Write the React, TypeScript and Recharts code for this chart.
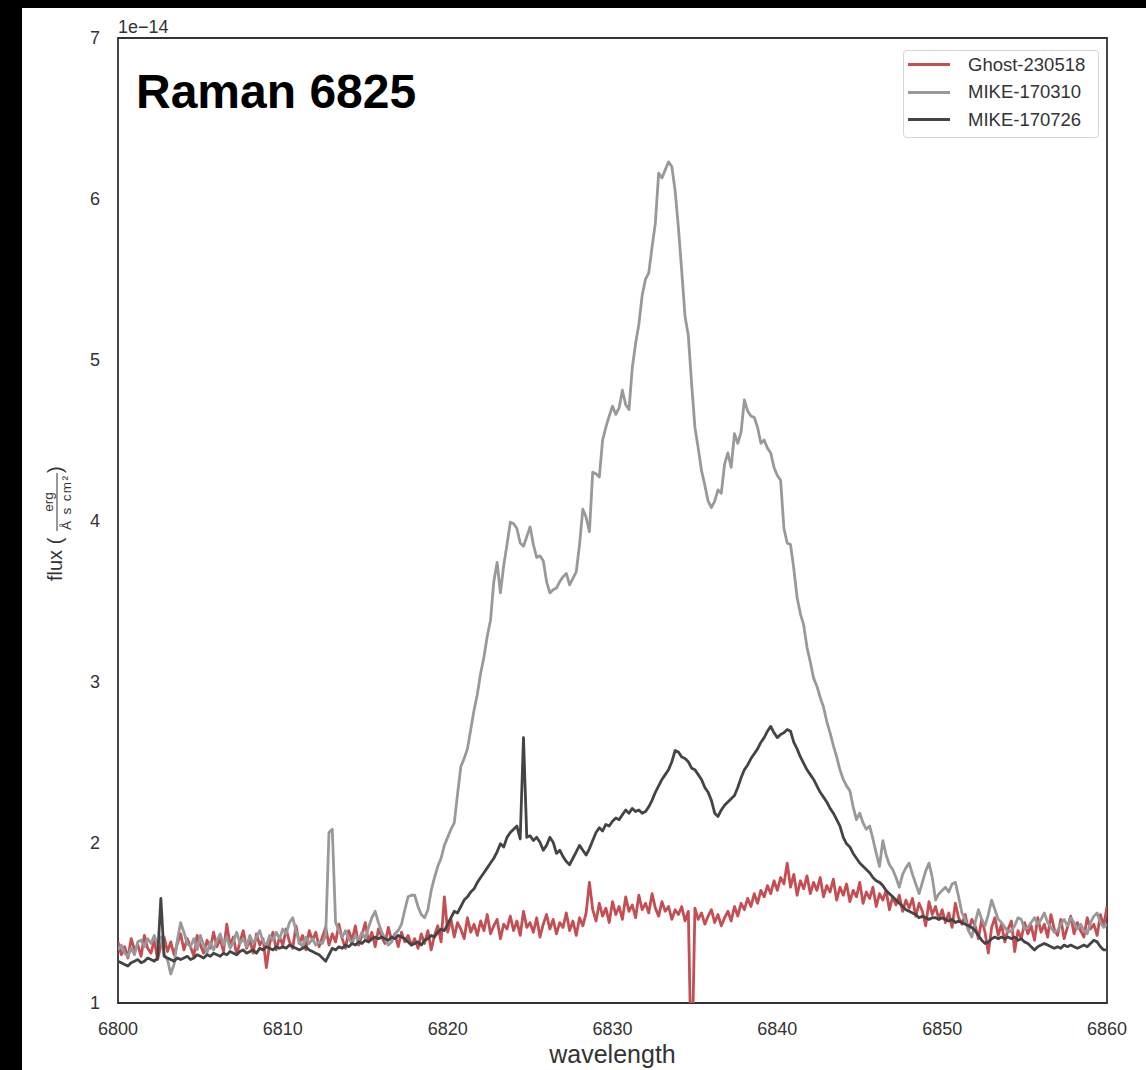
import React from "react";
import { LineChart, Line, XAxis, YAxis, Legend, ReferenceArea, Label } from "recharts";

const FONT = '"Liberation Sans", Arial, Helvetica, sans-serif';

// wavelength grid in Å (0.2 Å sampling)
const wavelengths = Array.from({ length: 301 }, (_, i) => Math.round((6800 + i * 0.2) * 10) / 10);

// flux in units of 1e-14 erg / (Å s cm²), one value per grid point
const ghost230518 = [
  1.38, 1.30, 1.35, 1.28, 1.40, 1.33, 1.36, 1.29, 1.42, 1.34,
  1.31, 1.39, 1.27, 1.36, 1.41, 1.32, 1.38, 1.30, 1.37, 1.43,
  1.33, 1.40, 1.35, 1.29, 1.42, 1.36, 1.31, 1.39, 1.34, 1.44,
  1.35, 1.40, 1.32, 1.49, 1.36, 1.41, 1.30, 1.38, 1.45, 1.34,
  1.39, 1.31, 1.43, 1.36, 1.40, 1.22, 1.37, 1.44, 1.33, 1.41,
  1.36, 1.46, 1.38, 1.34, 1.48, 1.37, 1.42, 1.33, 1.45, 1.39,
  1.44, 1.35, 1.41, 1.47, 1.36, 1.43, 1.38, 1.49, 1.40, 1.34,
  1.45, 1.39, 1.48, 1.36, 1.42, 1.50, 1.38, 1.44, 1.35, 1.46,
  1.41, 1.37, 1.47, 1.39, 1.43, 1.35, 1.44, 1.38, 1.42, 1.36,
  1.40, 1.34, 1.43, 1.37, 1.45, 1.33, 1.42, 1.48, 1.38, 1.66,
  1.44, 1.52, 1.41, 1.50, 1.46, 1.40, 1.53, 1.44, 1.49, 1.42,
  1.51, 1.45, 1.55, 1.43, 1.48, 1.52, 1.40, 1.49, 1.46, 1.54,
  1.45, 1.51, 1.42, 1.57, 1.47, 1.50, 1.44, 1.53, 1.41, 1.49,
  1.55, 1.46, 1.52, 1.43, 1.50, 1.47, 1.56, 1.45, 1.51, 1.42,
  1.53, 1.48, 1.56, 1.75, 1.58, 1.51, 1.62, 1.54, 1.59, 1.50,
  1.63, 1.55, 1.60, 1.52, 1.66, 1.57, 1.61, 1.53, 1.67, 1.58,
  1.62, 1.56, 1.68, 1.59, 1.54, 1.63, 1.57, 1.60, 1.52, 1.58,
  1.55, 1.60, 1.51, 1.57, 0.50, 1.59, 1.52, 1.56, 1.49, 1.54,
  1.58, 1.50, 1.55, 1.48, 1.53, 1.57, 1.51, 1.60, 1.54, 1.62,
  1.58, 1.65, 1.60, 1.68, 1.62, 1.70, 1.66, 1.73, 1.68, 1.76,
  1.70, 1.78, 1.74, 1.87, 1.72, 1.80, 1.67, 1.76, 1.71, 1.79,
  1.68, 1.75, 1.70, 1.78, 1.66, 1.73, 1.69, 1.77, 1.64, 1.72,
  1.67, 1.74, 1.63, 1.70, 1.66, 1.75, 1.62, 1.69, 1.65, 1.72,
  1.60, 1.68, 1.64, 1.70, 1.58, 1.66, 1.61, 1.67, 1.57, 1.64,
  1.59, 1.65, 1.54, 1.62, 1.57, 1.48, 1.63, 1.55, 1.60, 1.52,
  1.58, 1.50, 1.56, 1.47, 1.62, 1.53, 1.49, 1.55, 1.45, 1.52,
  1.48, 1.40, 1.52, 1.44, 1.31, 1.47, 1.53, 1.42, 1.49, 1.38,
  1.46, 1.51, 1.32, 1.45, 1.40, 1.50, 1.43, 1.48, 1.39, 1.53,
  1.44, 1.49, 1.41, 1.55, 1.46, 1.42, 1.52, 1.40, 1.47, 1.54,
  1.43, 1.50, 1.45, 1.41, 1.53, 1.46, 1.49, 1.42, 1.55, 1.48,
  1.60,
];

const mike170310 = [
  1.33, 1.36, 1.31, 1.29, 1.34, 1.30, 1.38, 1.39, 1.35, 1.40,
  1.37, 1.42, 1.36, 1.41, 1.30, 1.27, 1.18, 1.24, 1.39, 1.50,
  1.44, 1.37, 1.35, 1.40, 1.33, 1.42, 1.36, 1.31, 1.38, 1.33,
  1.39, 1.43, 1.36, 1.41, 1.34, 1.38, 1.44, 1.37, 1.40, 1.35,
  1.42, 1.37, 1.41, 1.45, 1.38, 1.36, 1.42, 1.39, 1.44, 1.40,
  1.46, 1.43, 1.50, 1.53, 1.45, 1.38, 1.35, 1.41, 1.37, 1.40,
  1.36, 1.38, 1.37, 1.42, 2.06, 2.08, 1.50, 1.45, 1.41, 1.45,
  1.40, 1.37, 1.42, 1.39, 1.44, 1.40, 1.47, 1.53, 1.57, 1.50,
  1.44, 1.40, 1.36, 1.38, 1.43, 1.45, 1.49, 1.58, 1.66, 1.67,
  1.67, 1.60, 1.55, 1.53, 1.58, 1.70, 1.78, 1.85, 1.90, 1.98,
  2.03, 2.08, 2.12, 2.30, 2.47, 2.52, 2.58, 2.70, 2.82, 2.92,
  3.05, 3.15, 3.28, 3.38, 3.62, 3.74, 3.55, 3.72, 3.85, 3.99,
  3.98, 3.95, 3.86, 3.84, 3.90, 3.96, 3.85, 3.77, 3.78, 3.75,
  3.62, 3.55, 3.57, 3.58, 3.62, 3.65, 3.67, 3.60, 3.64, 3.68,
  3.85, 4.07, 4.02, 3.93, 4.30, 4.29, 4.27, 4.50, 4.58, 4.65,
  4.71, 4.66, 4.70, 4.81, 4.72, 4.69, 4.95, 5.10, 5.22, 5.40,
  5.50, 5.54, 5.70, 5.85, 6.16, 6.13, 6.18, 6.23, 6.20, 6.05,
  5.82, 5.55, 5.27, 5.15, 4.85, 4.58, 4.45, 4.31, 4.22, 4.12,
  4.08, 4.12, 4.19, 4.17, 4.35, 4.42, 4.33, 4.54, 4.48, 4.55,
  4.75, 4.68, 4.65, 4.64, 4.58, 4.48, 4.50, 4.45, 4.42, 4.33,
  4.28, 4.25, 3.95, 3.86, 3.85, 3.70, 3.52, 3.42, 3.35, 3.21,
  3.12, 3.02, 2.97, 2.90, 2.84, 2.75, 2.68, 2.60, 2.53, 2.45,
  2.39, 2.35, 2.32, 2.22, 2.14, 2.18, 2.12, 2.08, 2.10, 2.02,
  1.93, 1.85, 2.01, 1.92, 1.86, 1.83, 1.78, 1.72, 1.80, 1.84,
  1.87, 1.80, 1.74, 1.68, 1.75, 1.82, 1.87, 1.78, 1.64, 1.68,
  1.70, 1.72, 1.69, 1.74, 1.75, 1.66, 1.56, 1.52, 1.45, 1.41,
  1.50, 1.58, 1.52, 1.48, 1.55, 1.64, 1.58, 1.52, 1.50, 1.47,
  1.44, 1.45, 1.48, 1.53, 1.52, 1.46, 1.47, 1.50, 1.53, 1.49,
  1.52, 1.56, 1.50, 1.47, 1.44, 1.45, 1.49, 1.52, 1.48, 1.53,
  1.50, 1.46, 1.49, 1.45, 1.43, 1.50, 1.54, 1.56, 1.50, 1.47,
  1.49,
];

const mike170726 = [
  1.26, 1.25, 1.24, 1.23, 1.25, 1.26, 1.27, 1.25, 1.26, 1.28,
  1.27, 1.26, 1.28, 1.65, 1.29, 1.28, 1.27, 1.26, 1.28, 1.27,
  1.28, 1.29, 1.27, 1.28, 1.30, 1.29, 1.28, 1.30, 1.29, 1.31,
  1.30, 1.29, 1.31, 1.30, 1.32, 1.31, 1.30, 1.32, 1.33, 1.31,
  1.32, 1.33, 1.31, 1.34, 1.33, 1.35, 1.34, 1.33, 1.35, 1.34,
  1.35, 1.34, 1.36, 1.35, 1.34, 1.33, 1.34, 1.35, 1.33, 1.32,
  1.31, 1.30, 1.28, 1.26, 1.30, 1.34, 1.33, 1.35, 1.34, 1.36,
  1.35, 1.37, 1.36, 1.38, 1.37, 1.39, 1.38, 1.40, 1.41, 1.40,
  1.41, 1.40, 1.39, 1.41, 1.40, 1.42, 1.41, 1.40, 1.38, 1.36,
  1.37, 1.38, 1.36, 1.39, 1.40, 1.42, 1.41, 1.44, 1.46, 1.45,
  1.49, 1.53, 1.57, 1.56, 1.60, 1.64, 1.66, 1.69, 1.71, 1.75,
  1.78, 1.81, 1.84, 1.87, 1.90, 1.94, 1.99, 1.97, 2.03, 2.06,
  2.08, 2.10, 2.02, 2.65, 2.03, 2.04, 2.01, 2.03, 2.00, 1.95,
  1.98, 2.03, 2.00, 1.93, 1.95, 1.91, 1.88, 1.86, 1.90, 1.94,
  1.98, 1.95, 1.92, 1.96, 2.01, 2.06, 2.09, 2.07, 2.11, 2.10,
  2.13, 2.15, 2.14, 2.17, 2.20, 2.18, 2.21, 2.19, 2.20, 2.18,
  2.19, 2.22, 2.26, 2.31, 2.35, 2.39, 2.42, 2.45, 2.50, 2.57,
  2.56, 2.53, 2.52, 2.50, 2.46, 2.45, 2.42, 2.39, 2.34, 2.31,
  2.26, 2.18, 2.16, 2.20, 2.23, 2.25, 2.27, 2.29, 2.34, 2.40,
  2.45, 2.48, 2.52, 2.55, 2.58, 2.62, 2.65, 2.69, 2.72, 2.68,
  2.65, 2.67, 2.68, 2.70, 2.69, 2.62, 2.58, 2.53, 2.49, 2.45,
  2.42, 2.39, 2.35, 2.31, 2.28, 2.25, 2.21, 2.18, 2.14, 2.10,
  2.03, 1.99, 1.97, 1.93, 1.90, 1.87, 1.85, 1.83, 1.81, 1.78,
  1.76, 1.75, 1.73, 1.70, 1.68, 1.66, 1.64, 1.62, 1.60, 1.58,
  1.57, 1.56, 1.55, 1.53, 1.54, 1.53, 1.52, 1.53, 1.53, 1.52,
  1.53, 1.52, 1.51, 1.52, 1.50, 1.51, 1.50, 1.49, 1.48, 1.47,
  1.45, 1.42, 1.39, 1.37, 1.38, 1.40, 1.41, 1.40, 1.41, 1.40,
  1.41, 1.40, 1.41, 1.39, 1.40, 1.38, 1.37, 1.35, 1.33, 1.35,
  1.36, 1.37, 1.36, 1.35, 1.34, 1.35, 1.34, 1.36, 1.35, 1.36,
  1.35, 1.34, 1.35, 1.36, 1.35, 1.37, 1.39, 1.38, 1.35, 1.33,
  1.33,
];

const xTicks = [6800, 6810, 6820, 6830, 6840, 6850, 6860];
const yTicks = [1, 2, 3, 4, 5, 6, 7];

const seriesKeys = ["ghost", "mike310", "mike726"];
const seriesNames = ["Ghost-230518", "MIKE-170310", "MIKE-170726"];
const seriesColors = ["#c44e52", "#999999", "#444444"];

const spectra = wavelengths.map((wavelength, i) => ({
  wavelength,
  ghost: ghost230518[i],
  mike310: mike170310[i],
  mike726: mike170726[i],
}));

function SpectraLegend() {
  return (
    <div
      style={{
        width: 196,
        height: 88,
        boxSizing: "border-box",
        border: "1px solid #d6d6d6",
        borderRadius: 4,
        background: "#fff",
        padding: "0 0 0 4px",
        fontFamily: FONT,
        fontSize: 18.5,
        color: "#333",
      }}
    >
      {seriesNames.map((name, i) => (
        <div key={name} style={{ display: "flex", alignItems: "center", height: 27.5 }}>
          <div style={{ width: 42, height: 3, background: seriesColors[i], marginRight: 18 }} />
          <span>{name}</span>
        </div>
      ))}
    </div>
  );
}

// rotated y label: flux (erg / Å s cm²)
function FluxLabel() {
  return (
    <g transform="translate(58, 523) rotate(-90)" fill="#333" fontFamily={FONT}>
      <text x={-58} y={4} fontSize={20}>flux (</text>
      <text x={21} y={-5} fontSize={13.5} textAnchor="middle">erg</text>
      <line x1={-8} x2={50} y1={-1} y2={-1} stroke="#333" strokeWidth={1} />
      <text x={-7} y={13} fontSize={13.5} textLength={54} lengthAdjust="spacing">Å s cm²</text>
      <text x={50} y={4} fontSize={20}>)</text>
    </g>
  );
}

function WavelengthLabel() {
  return (
    <text x={612.5} y={1063} textAnchor="middle" fontSize={25} fill="#333" fontFamily={FONT}>
      wavelength
    </text>
  );
}

export default function App() {
  return (
    <div style={{ position: "absolute", left: 0, top: 0, width: 1146, height: 1070, background: "#000" }}>
      <div style={{ position: "absolute", left: 22, top: 8, width: 1124, height: 1062, background: "#fff" }} />
      <div style={{ position: "absolute", left: 0, top: 0 }}>
        <LineChart
          width={1146}
          height={1070}
          data={spectra}
          margin={{ top: 38, right: 39, left: 58, bottom: 27 }}
        >
          <XAxis
            type="number"
            dataKey="wavelength"
            domain={[6800, 6860]}
            ticks={xTicks}
            allowDataOverflow
            axisLine={false}
            tickLine={false}
            tickSize={0}
            tickMargin={19}
            height={40}
            tick={{ fill: "#333", fontSize: 18, fontFamily: FONT }}
          >
            <Label content={WavelengthLabel} />
          </XAxis>
          <YAxis
            type="number"
            domain={[1, 7]}
            ticks={yTicks}
            allowDataOverflow
            axisLine={false}
            tickLine={false}
            tickSize={0}
            tickMargin={18}
            width={60}
            tick={{ fill: "#333", fontSize: 18, fontFamily: FONT }}
          >
            <Label content={FluxLabel} />
          </YAxis>
          <ReferenceArea
            x1={6800}
            x2={6860}
            y1={1}
            y2={7}
            fill="none"
            stroke="#333"
            strokeWidth={1.8}
            ifOverflow="visible"
          />
          {seriesKeys.map((key, i) => (
            <Line
              key={key}
              type="linear"
              dataKey={key}
              name={seriesNames[i]}
              stroke={seriesColors[i]}
              strokeWidth={2.8}
              strokeLinejoin="round"
              dot={false}
              activeDot={false}
              isAnimationActive={false}
            />
          ))}
          <Legend
            layout="vertical"
            align="center"
            verticalAlign="middle"
            content={SpectraLegend}
            wrapperStyle={{ left: 903, top: 50, width: 196 }}
          />
        </LineChart>
      </div>
      <svg
        width={1146}
        height={1070}
        style={{ position: "absolute", left: 0, top: 0, pointerEvents: "none" }}
      >
        <text x={118} y={33} fontSize={18} fill="#333" fontFamily={FONT}>
          1e−14
        </text>
        <text x={136} y={108} fontSize={48} fontWeight="bold" fill="#000" fontFamily={FONT}>
          Raman 6825
        </text>
      </svg>
    </div>
  );
}
